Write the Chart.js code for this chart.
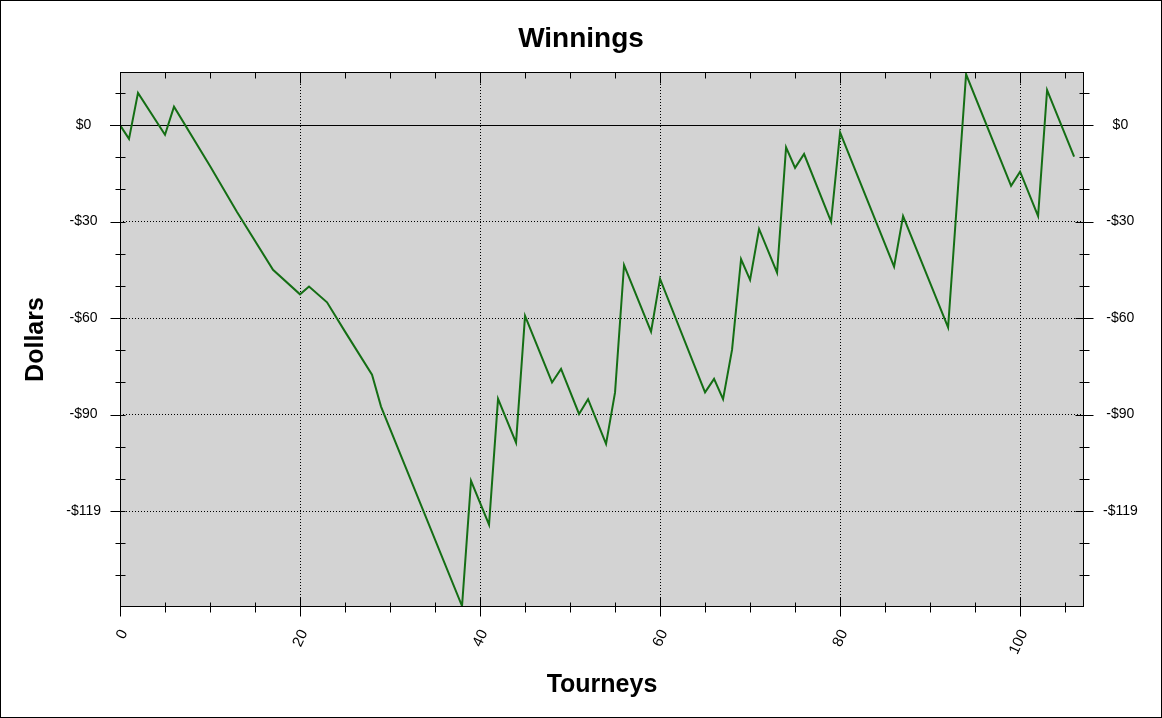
<!DOCTYPE html>
<html>
<head>
<meta charset="utf-8">
<title>Winnings</title>
<script src="https://cdn.jsdelivr.net/npm/chart.js@4.4.0/dist/chart.umd.min.js"></script>
<style>
  html, body { margin: 0; padding: 0; background: #fff; }
  canvas { display: block; }
</style>
</head>
<body>
<canvas id="winningsChart" width="1162" height="718"></canvas>
<script>
// tourney number at each turning point of the line, and the running total there
const tourneys = [0, 1, 2, 5, 6, 10, 13, 17, 20, 21, 23, 25, 28, 29, 38, 39, 41, 42, 44, 45,
    48, 49, 51, 52, 54, 55, 56, 59, 60, 65, 66, 67, 68, 69, 70, 71, 73, 74, 75, 76,
    79, 80, 86, 87, 92, 94, 99, 100, 102, 103, 106];
const winnings = [0, -4.3, 10, -3, 5.7, -12.7, -27, -45, -52.6, -50.2, -55.1, -64.2, -77.6, -87.5, -149.5, -110.6, -124.2, -85.1, -98.7, -59.3,
    -80, -75.8, -89.8, -85.2, -99.1, -83.1, -43.5, -64.2, -47.8, -83.1, -78.9, -85.2, -69.8, -41.7, -48.1, -32.3, -45.9, -6.9, -13.3, -9,
    -30, -2.3, -44, -28.3, -62.9, 15.8, -18.9, -14.5, -28.3, 10.9, -9.8];

const yTickValues = [0, -30, -60, -90, -120];
const yTickLabels = ['$0', '-$30', '-$60', '-$90', '-$119'];
const xTickValues = [0, 20, 40, 60, 80, 100];

Chart.defaults.font.family = 'Arial, "Liberation Sans", sans-serif';
Chart.defaults.color = '#000';

// background, frame, zero line and the little tick marks that cross the frame
const framePlugin = {
    id: 'framePlugin',
    beforeDraw(chart) {
        const ctx = chart.ctx;
        const a = chart.chartArea;
        ctx.save();
        ctx.fillStyle = '#fff';
        ctx.fillRect(0, 0, chart.width, chart.height);
        ctx.fillStyle = '#d3d3d3';
        ctx.fillRect(a.left, a.top, a.right - a.left, a.bottom - a.top);
        ctx.restore();
    },
    beforeDatasetsDraw(chart) {
        const ctx = chart.ctx;
        const a = chart.chartArea;
        const y0 = Math.round(chart.scales.y.getPixelForValue(0)) + 0.5;
        ctx.save();
        ctx.strokeStyle = '#000';
        ctx.lineWidth = 1;
        ctx.beginPath();
        ctx.moveTo(a.left - 10, y0);
        ctx.lineTo(a.right, y0);
        ctx.stroke();
        ctx.restore();
    },
    afterDatasetsDraw(chart) {
        const ctx = chart.ctx;
        const a = chart.chartArea;
        const xs = chart.scales.x;
        const ys = chart.scales.y;
        const L = Math.round(a.left) + 0.5, R = Math.round(a.right) - 0.5;
        const T = Math.round(a.top) + 0.5, B = Math.round(a.bottom) - 0.5;
        ctx.save();
        ctx.strokeStyle = '#000';
        ctx.lineWidth = 1;
        ctx.strokeRect(L, T, R - L, B - T);
        ctx.strokeRect(0.5, 0.5, chart.width - 1, chart.height - 1);

        ctx.beginPath();
        for (let v = 10; v >= -140; v -= 10) {
            const py = Math.round(ys.getPixelForValue(v)) + 0.5;
            const major = yTickValues.includes(v);
            ctx.moveTo(L - (major ? 10 : 5), py);
            ctx.lineTo(L + 5, py);
            ctx.moveTo(R - (major ? 8 : 4), py);
            ctx.lineTo(R + (major ? 10 : 6), py);
        }
        for (let v = 0; v <= 105; v += 5) {
            const px = Math.round(xs.getPixelForValue(v)) + 0.5;
            const major = xTickValues.includes(v);
            ctx.moveTo(px, B - (major ? 9 : 4));
            ctx.lineTo(px, B + (major ? 10 : 6));
            ctx.moveTo(px, T);
            ctx.lineTo(px, T + (major ? 11 : 6));
        }
        ctx.stroke();
        ctx.restore();
    }
};

const yTicks = {
    padding: 19,
    crossAlign: 'center',
    font: { size: 14 },
    color: '#000',
    callback: (v) => {
        const i = yTickValues.indexOf(v);
        return i >= 0 ? yTickLabels[i] : '';
    }
};

new Chart(document.getElementById('winningsChart'), {
    type: 'line',
    data: {
        datasets: [{
            label: 'Winnings',
            data: tourneys.map((t, i) => ({ x: t, y: winnings[i] })),
            borderColor: '#146e14',
            borderWidth: 2,
            pointRadius: 0,
            tension: 0,
            fill: false
        }]
    },
    options: {
        responsive: false,
        animation: false,
        layout: { padding: 0 },
        plugins: {
            legend: { display: false },
            tooltip: { enabled: false },
            title: {
                display: true,
                text: 'Winnings',
                color: '#000',
                font: { size: 28, weight: 'bold' },
                padding: { top: 22, bottom: 16.4 }
            }
        },
        scales: {
            x: {
                type: 'linear',
                min: 0,
                max: 107.1,
                afterBuildTicks: (s) => { s.ticks = xTickValues.map(v => ({ value: v })); },
                afterFit: (s) => { s.height = 111; },
                ticks: {
                    autoSkip: false,
                    minRotation: 65,
                    maxRotation: 65,
                    padding: 20,
                    labelOffset: 4,
                    font: { size: 15 },
                    color: '#000'
                },
                grid: { color: '#000', lineWidth: 1, drawTicks: false },
                border: { display: false, dash: [1, 2] },
                title: {
                    display: true,
                    text: 'Tourneys',
                    color: '#000',
                    font: { size: 25, weight: 'bold' },
                    padding: { top: 0, bottom: 18 }
                }
            },
            y: {
                position: 'left',
                min: -149.8,
                max: 16.5,
                afterBuildTicks: (s) => { s.ticks = yTickValues.map(v => ({ value: v })); },
                afterFit: (s) => { s.width = 120; },
                ticks: yTicks,
                grid: { color: '#000', lineWidth: 1, drawTicks: false },
                border: { display: false, dash: [1, 2] },
                title: {
                    display: true,
                    text: 'Dollars',
                    color: '#000',
                    font: { size: 25, weight: 'bold' },
                    padding: { top: 21, bottom: 0 }
                }
            },
            y2: {
                position: 'right',
                min: -149.8,
                max: 16.5,
                afterBuildTicks: (s) => { s.ticks = yTickValues.map(v => ({ value: v })); },
                afterFit: (s) => { s.width = 78; },
                ticks: yTicks,
                grid: { drawOnChartArea: false, drawTicks: false },
                border: { display: false }
            }
        }
    },
    plugins: [framePlugin]
});
</script>
</body>
</html>
